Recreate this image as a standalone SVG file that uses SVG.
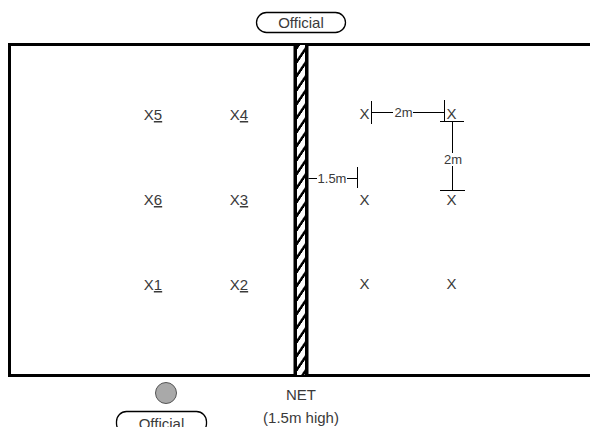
<svg xmlns="http://www.w3.org/2000/svg" width="590" height="427" viewBox="0 0 590 427">
<style>
text{font-family:"Liberation Sans",Arial,sans-serif;fill:#3a3a3a}
.p{font-size:15px;text-anchor:middle}
.d{font-size:13px;text-anchor:middle}
.ln{stroke:#000;stroke-width:1;fill:none}
.pill{fill:#fff;stroke:#000;stroke-width:1.3}
.u{text-decoration:underline}
</style>
<defs>
<pattern id="stripes" patternUnits="userSpaceOnUse" width="20" height="14" patternTransform="skewY(-56)">
<rect width="20" height="14" fill="#fff"/>
<rect y="9.5" width="20" height="4.5" fill="#000"/>
</pattern>
</defs>
<rect width="590" height="427" fill="#fff"/>
<g id="court">
<line x1="9.5" y1="43" x2="9.5" y2="377" stroke="#000" stroke-width="3"/>
<line x1="8" y1="44.5" x2="590" y2="44.5" stroke="#000" stroke-width="3"/>
<line x1="8" y1="375.5" x2="590" y2="375.5" stroke="#000" stroke-width="3"/>
</g>
<g id="net">
<rect x="293.5" y="45" width="15" height="330" fill="#000"/>
<rect x="297" y="45" width="8" height="330" fill="url(#stripes)"/>
</g>
<g id="official-top">
<rect class="pill" x="256.5" y="12.5" width="89" height="20" rx="10"/>
<text class="p" x="301" y="28" font-size="14">Official</text>
</g>
<g id="official-bottom">
<circle cx="166" cy="393" r="10.5" fill="#a9a9a9" stroke="#555" stroke-width="1"/>
<rect class="pill" x="116.5" y="411.5" width="90" height="22" rx="10"/>
<text class="p" x="161.5" y="429">Official</text>
</g>
<g id="net-label">
<text class="p" x="301" y="400">NET</text>
<text class="p" x="301" y="423">(1.5m high)</text>
</g>
<g id="players-left">
<text class="p" x="153" y="120">X<tspan class="u">5</tspan></text>
<text class="p" x="239" y="120">X<tspan class="u">4</tspan></text>
<text class="p" x="153" y="205">X<tspan class="u">6</tspan></text>
<text class="p" x="239" y="205">X<tspan class="u">3</tspan></text>
<text class="p" x="153" y="290">X<tspan class="u">1</tspan></text>
<text class="p" x="239" y="290">X<tspan class="u">2</tspan></text>
</g>
<g id="players-right">
<text class="p" x="364.5" y="119">X</text>
<text class="p" x="451.5" y="119">X</text>
<text class="p" x="364.5" y="205">X</text>
<text class="p" x="451.5" y="205">X</text>
<text class="p" x="364.5" y="289">X</text>
<text class="p" x="451.5" y="289">X</text>
</g>
<g id="connectors">
<line class="ln" x1="371.5" y1="101" x2="371.5" y2="124"/>
<line class="ln" x1="371.5" y1="112.5" x2="393" y2="112.5"/>
<line class="ln" x1="413" y1="112.5" x2="444.5" y2="112.5"/>
<line class="ln" x1="444.5" y1="100" x2="444.5" y2="122"/>
<line class="ln" x1="440" y1="121.5" x2="464" y2="121.5"/>
<line class="ln" x1="452.5" y1="121.5" x2="452.5" y2="153"/>
<line class="ln" x1="452.5" y1="166" x2="452.5" y2="190.5"/>
<line class="ln" x1="440" y1="190.5" x2="465" y2="190.5"/>
<line class="ln" x1="308.5" y1="178.5" x2="317" y2="178.5"/>
<line class="ln" x1="347" y1="178.5" x2="357.5" y2="178.5"/>
<line class="ln" x1="357.5" y1="167" x2="357.5" y2="188"/>
</g>
<g id="labels">
<text class="d" x="403.5" y="117">2m</text>
<text class="d" x="453" y="164">2m</text>
<text class="d" x="332" y="183">1.5m</text>
</g>
</svg>
